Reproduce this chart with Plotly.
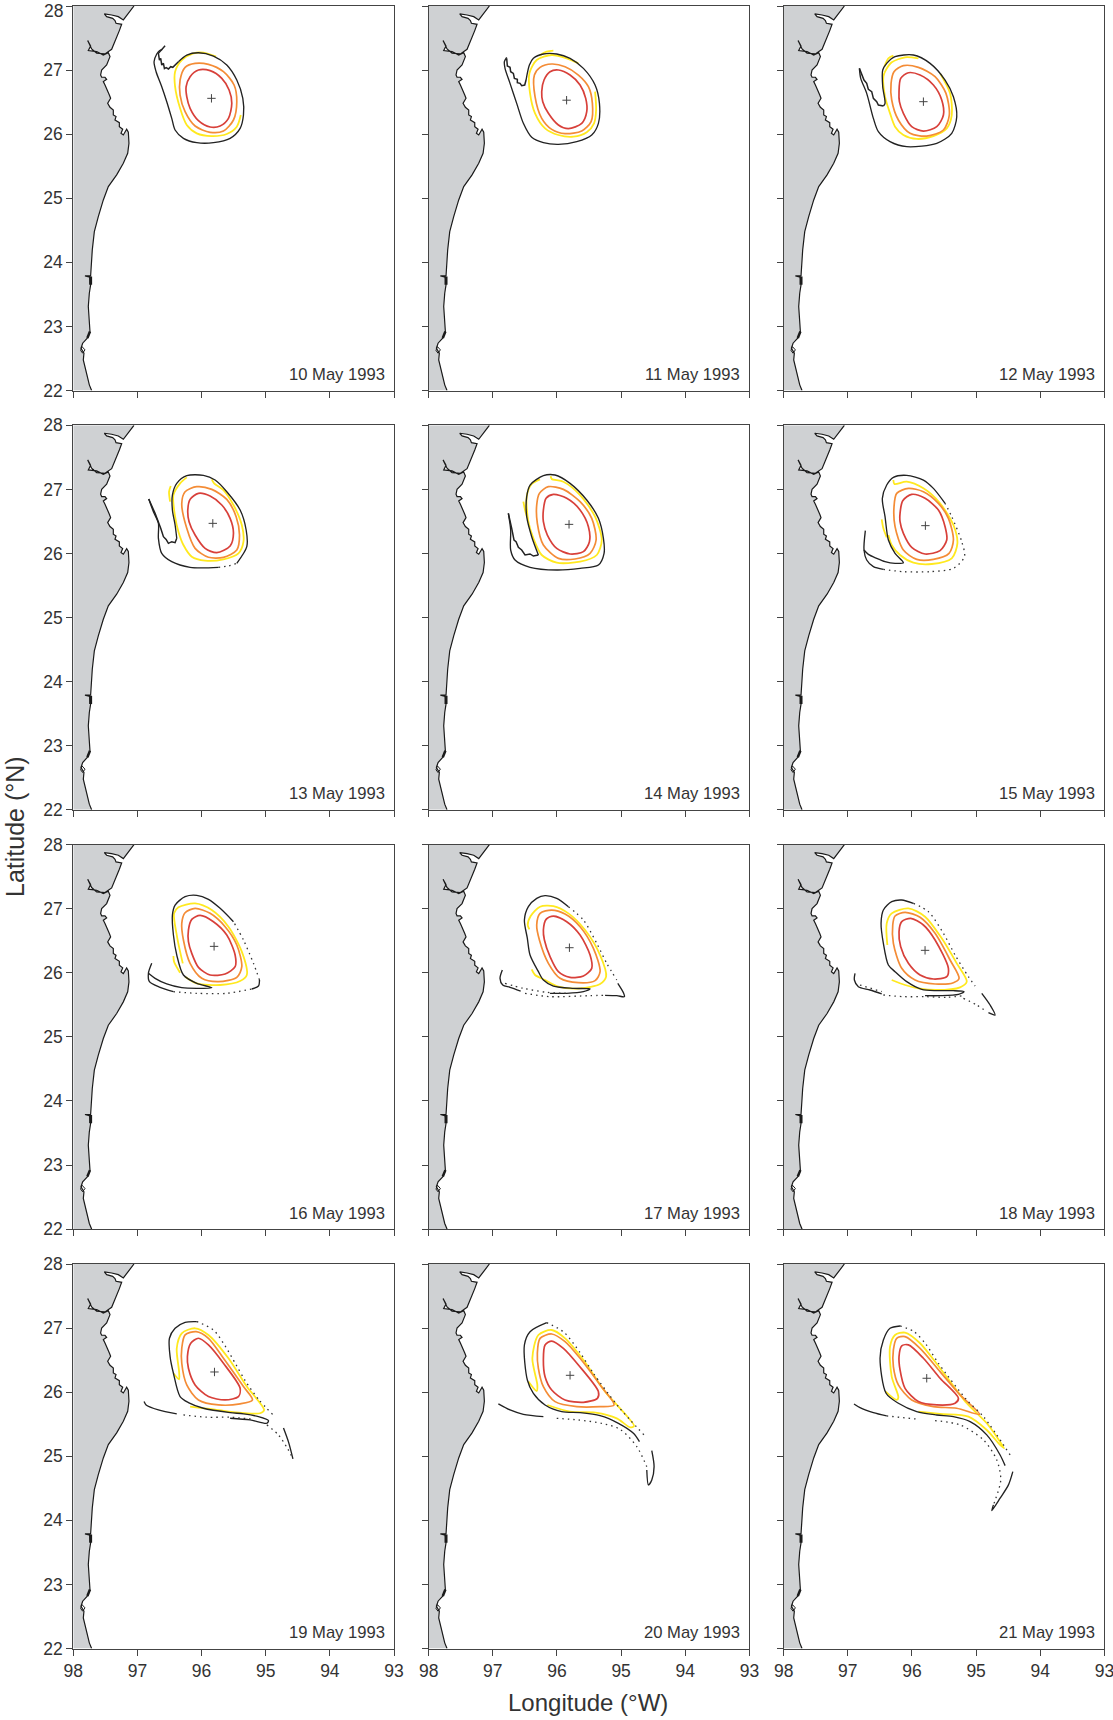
import plotly.graph_objects as go

FONT = "Liberation Sans, Arial, sans-serif"
INK = "#333333"
GREY = "#CFD1D3"
RED = "#D8403A"
ORANGE = "#F48C36"
YELLOW = "#FFE91F"
BLACK = "#222222"

lon_ticks = [98, 97, 96, 95, 94, 93]
lat_ticks = [22, 23, 24, 25, 26, 27, 28]

coast_lon = [97.054,97.142,97.22,97.298,97.402,97.516,97.48,97.386,97.35,97.334,97.246,97.282,97.324,97.366,97.402,97.506,97.636,97.714,97.776,97.73,97.766,97.636,97.532,97.454,97.428,97.48,97.558,97.574,97.558,97.506,97.48,97.532,97.506,97.48,97.438,97.418,97.464,97.428,97.376,97.376,97.334,97.35,97.282,97.282,97.23,97.256,97.22,97.168,97.142,97.132,97.152,97.22,97.324,97.454,97.532,97.61,97.672,97.704,97.724,97.73,97.818,97.74,97.73,97.75,97.766,97.75,97.74,97.782,97.854,97.88,97.834,97.844,97.802,97.776,97.75,97.714]
coast_lat = [28.0,27.876,27.782,27.834,27.86,27.876,27.834,27.808,27.772,27.73,27.714,27.616,27.522,27.418,27.324,27.252,27.262,27.33,27.46,27.376,27.304,27.288,27.236,27.272,27.21,27.08,27.002,26.924,26.888,26.888,26.856,26.82,26.768,26.716,26.612,26.56,26.482,26.42,26.378,26.3,26.274,26.222,26.18,26.118,26.076,26.014,25.988,26.076,26.03,25.858,25.702,25.546,25.364,25.182,24.974,24.714,24.48,24.194,23.934,23.788,23.788,23.768,23.648,23.518,23.31,23.05,22.92,22.816,22.738,22.66,22.582,22.478,22.322,22.218,22.088,22.0]
land_lon = [98.0, 98.0]
land_lat = [22.0, 28.0]
coast_thick_a = ([97.73, 97.73], [23.78, 23.65])
coast_thick_b = ([97.74, 97.78], [22.92, 22.82])
coast_isle = ([97.865, 97.886, 97.854, 97.818, 97.865], [22.686, 22.624, 22.582, 22.634, 22.686])

# ---- 10 May
d10_center = (95.846, 26.559)
d10_red = ([96.241,96.179,96.049,95.867,95.685,95.571,95.529,95.581,95.711,95.867,96.049,96.179,96.231,96.241],[26.741,26.897,27.001,26.991,26.871,26.689,26.481,26.247,26.127,26.112,26.211,26.403,26.585,26.741])
d10_orange = ([96.335,96.257,96.101,95.893,95.659,95.493,95.451,95.503,95.659,95.867,96.101,96.257,96.335,96.335],[26.845,27.043,27.105,27.089,26.975,26.767,26.507,26.221,26.049,26.029,26.127,26.351,26.611,26.845])
d10_yellow = [([95.773,95.971,96.127,96.309,96.413,96.413,96.335,96.231,96.075,95.841,95.607,95.451,95.389],[27.209,27.271,27.261,27.157,26.975,26.741,26.403,26.143,26.013,25.971,26.003,26.117,26.299])]
d10_black = [([96.611,96.657,96.699,96.741,96.709,96.621,96.543,96.465,96.413,96.283,96.075,95.815,95.555,95.399,95.347,95.357,95.451,95.607,95.815,96.049,96.231,96.361],[27.323,27.303,27.251,27.131,26.975,26.741,26.507,26.247,26.065,25.935,25.867,25.867,25.935,26.091,26.299,26.559,26.845,27.079,27.219,27.271,27.235,27.131])]
d10_jag = ([96.361,96.413,96.449,96.481,96.517,96.553,96.579,96.595,96.621,96.637,96.657,96.673,96.569],[27.131,27.079,27.043,27.053,27.017,27.037,27.022,27.105,27.079,27.183,27.157,27.261,27.381])
d10_dots = []

# ---- 11 May
d11_center = (95.85, 26.53)
d11_red = ([96.238,96.202,96.108,95.978,95.796,95.64,95.552,95.536,95.614,95.822,95.978,96.134,96.222,96.238],[26.663,26.845,26.975,27.001,26.923,26.767,26.559,26.351,26.169,26.086,26.143,26.325,26.507,26.663])
d11_orange = ([96.352,96.264,96.082,95.874,95.666,95.51,95.448,95.468,95.614,95.874,96.082,96.238,96.342,96.352],[26.923,27.043,27.095,27.053,26.923,26.741,26.481,26.195,26.049,26.008,26.075,26.247,26.585,26.923])
d11_yellow = [([96.056,96.16,96.274],[27.303,27.287,27.225]),([95.666,95.848,96.082,96.316,96.43,96.42,96.342,96.186,95.978,95.744,95.536,95.422,95.39,95.406],[27.105,27.183,27.235,27.157,26.949,26.637,26.325,26.091,25.987,25.961,26.029,26.169,26.377,26.663])]
d11_black = [([96.784,96.82,96.81,96.732,96.628,96.524,96.394,96.212,95.978,95.692,95.458,95.354,95.338,95.406,95.588,95.796,96.004,96.212,96.368,96.43,96.482],[27.199,27.131,27.027,26.793,26.481,26.169,25.951,25.867,25.841,25.883,25.987,26.169,26.481,26.767,27.027,27.183,27.251,27.251,27.183,27.079,26.845])]
d11_jag = ([96.482,96.503,96.55,96.576,96.618,96.618,96.664,96.68,96.722,96.732,96.774,96.784],[26.845,26.767,26.757,26.793,26.803,26.855,26.871,26.949,26.975,27.043,27.063,27.183])
d11_dots = []

# ---- 12 May
d12_center = (95.822, 26.507)
d12_red = ([96.202,96.176,96.056,95.874,95.666,95.536,95.51,95.614,95.822,96.004,96.134,96.196,96.202],[26.663,26.871,26.959,26.923,26.767,26.533,26.299,26.117,26.049,26.117,26.325,26.507,26.663])
d12_orange = ([96.326,96.28,96.134,95.9,95.64,95.47,95.418,95.51,95.77,96.03,96.212,96.316,96.326],[26.793,26.975,27.069,27.043,26.897,26.637,26.299,26.065,25.971,26.013,26.221,26.533,26.793])
d12_yellow = [([96.29,96.368,96.43],[27.225,27.183,27.053]),([95.9,96.108,96.316,96.42,96.446,96.42,96.342,96.264,96.134,95.926,95.666,95.458,95.38,95.406,95.562],[27.183,27.199,27.121,26.975,26.897,26.585,26.325,26.117,25.987,25.925,25.971,26.091,26.299,26.637,26.949])]
d12_black = [([96.446,96.42,96.456,96.456,96.394,96.264,95.978,95.718,95.484,95.354,95.302,95.38,95.614,96.082,96.342,96.524,96.602,96.706,96.799,96.82],[26.439,26.481,26.741,27.001,27.105,27.209,27.235,27.105,26.845,26.585,26.273,26.013,25.857,25.805,25.883,26.039,26.247,26.637,26.871,27.027])]
d12_jag = ([96.82,96.748,96.706,96.68,96.628,96.602,96.55,96.524,96.446],[27.027,26.845,26.793,26.699,26.663,26.559,26.507,26.455,26.439])
d12_dots = []

# ---- 13 May
d13_center = (95.825, 26.47)
d13_red = ([96.215,96.179,96.049,95.867,95.685,95.555,95.503,95.555,95.763,95.945,96.101,96.195,96.215],[26.678,26.844,26.938,26.896,26.756,26.548,26.314,26.116,26.012,26.08,26.288,26.496,26.678])
d13_orange = ([96.309,96.257,96.075,95.841,95.607,95.461,95.409,95.451,95.659,95.893,96.101,96.231,96.309],[26.782,26.964,27.042,27.0,26.844,26.574,26.288,26.054,25.94,25.94,26.08,26.392,26.782])
d13_yellow = [([96.481,96.507,96.491],[27.052,26.964,26.808]),([95.841,95.805,95.659,95.503,95.373,95.347,95.425,95.659,95.945,96.153,96.283,96.361,96.413,96.439,96.335,96.231],[27.156,27.094,26.99,26.756,26.444,26.184,26.002,25.908,25.888,25.95,26.132,26.34,26.574,26.912,27.094,27.188])]
d13_black = [([96.824,96.751,96.673,96.673,96.621,96.465,96.179,95.737],[26.85,26.652,26.47,26.236,26.002,25.872,25.784,25.784]),([95.451,95.295,95.305,95.399,95.607,95.789,95.971,96.231,96.387,96.455,96.455,96.413,96.387],[25.846,26.106,26.366,26.678,26.964,27.146,27.219,27.214,27.094,26.912,26.678,26.444,26.236])]
d13_jag = ([96.387,96.413,96.465,96.517,96.553,96.595,96.637,96.663,96.725,96.824],[26.236,26.168,26.184,26.158,26.22,26.262,26.392,26.47,26.626,26.85])
d13_dots = [([95.737,95.58,95.451],[25.784,25.805,25.846])]

# ---- 14 May
d14_center = (95.812, 26.454)
d14_red = ([96.212,96.17,96.056,95.848,95.64,95.51,95.494,95.588,95.796,96.004,96.15,96.212,96.212],[26.678,26.86,26.922,26.86,26.678,26.418,26.184,26.028,25.992,26.08,26.288,26.496,26.678])
d14_orange = ([96.316,96.274,96.134,95.9,95.64,95.458,95.39,95.484,95.718,95.978,96.212,96.306,96.316],[26.756,26.938,27.042,27.0,26.808,26.548,26.21,26.002,25.914,25.924,26.132,26.47,26.756])
d14_yellow = [([96.524,96.498,96.462],[26.808,26.678,26.548]),([96.098,96.082,95.9,95.64,95.406,95.302,95.38,95.64,96.004,96.238,96.368,96.446,96.472,96.394,96.264],[27.208,27.162,27.12,26.912,26.574,26.21,25.976,25.872,25.856,25.976,26.236,26.496,26.886,27.084,27.156])]
d14_black = [([96.758,96.722,96.722,96.654,96.42,96.004,95.64,95.354,95.266,95.276,95.354,95.536,95.796,96.03,96.212,96.42,96.472,96.472,96.394,96.29],[26.626,26.366,26.054,25.898,25.784,25.742,25.768,25.82,26.002,26.236,26.548,26.834,27.094,27.224,27.214,27.068,26.886,26.574,26.262,25.976])]
d14_jag = ([96.29,96.368,96.42,96.498,96.55,96.602,96.638,96.67,96.706,96.758],[25.976,25.96,25.992,25.976,26.054,26.096,26.184,26.21,26.392,26.626])
d14_dots = []

# ---- 15 May
d15_center = (95.791, 26.434)
d15_red = ([96.186,96.144,96.004,95.796,95.588,95.484,95.458,95.562,95.796,96.004,96.134,96.186,96.186],[26.626,26.824,26.922,26.86,26.678,26.418,26.21,26.044,25.992,26.096,26.314,26.496,26.626])
d15_orange = ([96.28,96.238,96.056,95.822,95.588,95.432,95.354,95.422,95.666,95.926,96.134,96.264,96.28],[26.73,26.938,27.016,26.964,26.782,26.548,26.21,26.002,25.908,25.908,26.054,26.418,26.73])
d15_yellow = [([96.472,96.446,96.394],[26.532,26.392,26.252]),([96.29,96.274,96.082,95.822,95.562,95.354,95.292,95.38,95.692,95.978,96.186,96.316,96.368],[27.146,27.084,27.12,27.016,26.782,26.444,26.158,25.924,25.836,25.856,25.976,26.132,26.288])]
d15_black = [([96.727,96.748,96.706,96.602,96.446],[26.356,26.054,25.898,25.794,25.752]),([95.484,95.666,95.822,96.082,96.29,96.394,96.462,96.42,96.368,96.264,96.134,96.264,96.42,96.55,96.68,96.748],[26.782,27.016,27.146,27.219,27.188,27.068,26.86,26.574,26.21,26.002,25.856,25.846,25.872,25.924,25.986,26.054])]
d15_jag = None
d15_dots = [([96.446,96.134,95.718,95.354,95.182,95.224,95.38,95.484],[25.752,25.716,25.716,25.768,25.95,26.184,26.574,26.782])]

# ---- 16 May
d16_center = (95.805, 26.412)
d16_red = ([96.205,96.153,96.023,95.815,95.607,95.477,95.477,95.633,95.867,96.049,96.153,96.205,96.205],[26.667,26.833,26.896,26.797,26.589,26.277,26.095,25.981,25.965,26.085,26.303,26.485,26.667])
d16_orange = ([96.309,96.257,96.101,95.867,95.633,95.451,95.373,95.451,95.737,95.997,96.179,96.283,96.309],[26.771,26.937,27.005,26.927,26.719,26.433,26.095,25.929,25.861,25.913,26.147,26.511,26.771])
d16_yellow = [([96.439,96.429,96.335],[26.261,26.173,26.001]),([96.293,96.335,96.387,96.429,96.361,96.101,95.841,95.581,95.373,95.295,95.399,95.711,96.075,96.257],[26.147,26.329,26.589,26.927,27.021,27.083,26.979,26.719,26.329,25.965,25.871,25.809,25.835,25.939])]
d16_black = [([96.777,96.829,96.813,96.647,96.439],[26.147,25.991,25.861,25.773,25.705]),([95.217,95.113,95.097],[25.747,25.793,25.887]),([95.503,95.711,95.893,96.075,96.257,96.413,96.455,96.439,96.387,96.283,96.075,95.841,96.075,96.309,96.543,96.725,96.829],[26.797,27.005,27.145,27.208,27.187,27.057,26.901,26.589,26.277,25.965,25.835,25.767,25.757,25.767,25.825,25.913,25.991])]
d16_jag = None
d16_dots = [([96.439,96.075,95.607,95.217],[25.705,25.679,25.679,25.747]),([95.097,95.191,95.347,95.503],[25.887,26.147,26.511,26.797])]

# ---- 17 May
d17_center = (95.806, 26.391)
d17_red = ([96.212,96.17,96.056,95.848,95.64,95.484,95.458,95.588,95.796,95.978,96.108,96.196,96.212],[26.667,26.833,26.885,26.797,26.589,26.277,26.069,25.949,25.929,26.017,26.251,26.511,26.667])
d17_orange = ([96.316,96.264,96.082,95.874,95.64,95.432,95.328,95.406,95.666,95.952,96.134,96.274,96.316],[26.745,26.927,26.979,26.917,26.719,26.381,26.017,25.877,25.845,25.913,26.147,26.511,26.745])
d17_yellow = [([96.43,96.456,96.41,96.264,96.056,95.822,95.562,95.328,95.234,95.328,95.64,95.978,96.186,96.342,96.394],[26.677,26.745,26.885,27.031,27.041,26.927,26.667,26.277,25.939,25.825,25.757,25.783,25.887,25.965,26.053])]
d17_black = [([96.852,96.888,96.846,96.732,96.566],[26.043,25.913,25.809,25.773,25.715]),([96.108,95.848,95.588,95.484,95.744,96.056,96.212,96.29,96.42,96.462,96.508,96.446,96.316,96.186,96.004,95.822],[25.679,25.679,25.705,25.747,25.757,25.793,25.887,26.017,26.277,26.537,26.823,27.031,27.161,27.203,27.161,27.031]),([95.052,94.964,94.948,95.068,95.25],[25.835,25.689,25.627,25.643,25.648])]
d17_jag = None
d17_dots = [([96.81,96.524,96.16,95.848],[25.835,25.757,25.695,25.679]),([96.498,96.108,95.484,95.25],[25.679,25.627,25.643,25.648]),([95.822,95.588,95.38,95.224,95.068],[27.031,26.823,26.459,26.147,25.887])]

# ---- 18 May
d18_center = (95.796, 26.35)
d18_red = ([96.202,96.16,96.02,95.822,95.64,95.432,95.458,95.666,95.874,96.056,96.176,96.202],[26.641,26.797,26.849,26.745,26.511,26.069,25.939,25.903,25.965,26.147,26.407,26.641])
d18_orange = ([96.30,96.264,96.108,95.874,95.64,95.406,95.266,95.354,95.64,95.952,96.16,96.29,96.30],[26.745,26.885,26.943,26.865,26.615,26.199,25.913,25.845,25.825,25.887,26.069,26.459,26.745])
d18_yellow = [([96.384,96.394,96.316,96.056,95.796,95.536,95.302,95.146,95.25,95.614,95.9,96.108,96.316],[26.433,26.771,26.927,27.005,26.875,26.537,26.147,25.861,25.773,25.731,25.757,25.809,25.887])]
d18_black = [([96.888,96.898,96.836,96.654,96.472],[25.991,25.887,25.783,25.731,25.669]),([95.796,95.562,95.276,95.188,95.354,95.614,95.848,96.082,96.264,96.368,96.446,96.482,96.446,96.316,96.16,95.978],[25.643,25.643,25.663,25.705,25.721,25.721,25.741,25.861,26.017,26.121,26.459,26.771,26.979,27.109,27.135,27.083]),([94.912,94.782,94.704,94.808],[25.679,25.497,25.341,25.377])]
d18_jag = None
d18_dots = [([96.81,96.472],[25.809,25.705]),([96.446,96.134,95.796,95.458,95.198],[25.653,25.627,25.627,25.617,25.643]),([95.198,94.99,94.834],[25.601,25.497,25.393]),([95.978,95.744,95.51,95.328,95.12,95.016],[27.083,26.953,26.615,26.277,25.939,25.793])]

# ---- 19 May
d19_center = (95.799, 26.315)
d19_red = ([96.221,96.169,96.049,95.893,95.659,95.399,95.425,95.633,95.893,96.101,96.205,96.221],[26.555,26.763,26.841,26.737,26.451,26.061,25.931,25.879,25.931,26.113,26.373,26.555])
d19_orange = ([96.309,96.257,96.085,95.893,95.659,95.347,95.207,95.399,95.737,96.049,96.231,96.309,96.309],[26.685,26.893,26.945,26.841,26.529,26.087,25.879,25.817,25.801,25.879,26.113,26.451,26.685])
d19_yellow = [([96.439,96.351,96.351,96.387,96.309,96.101,95.893,95.581,95.295,95.025,95.087,95.503,95.815,96.179],[26.295,26.201,26.321,26.685,26.919,26.997,26.893,26.529,26.087,25.723,25.671,25.687,25.733,25.775])]
d19_black = [([96.897,96.865,96.673,96.387],[25.853,25.801,25.723,25.66]),([95.555,95.243,94.983,94.957,95.113,95.347,95.555,95.971,96.205,96.335,96.439,96.491,96.501,96.413,96.257,96.075],[25.593,25.567,25.515,25.556,25.618,25.66,25.681,25.749,25.837,25.931,26.295,26.555,26.841,26.997,27.09,27.101]),([94.723,94.644,94.576],[25.44,25.22,24.96])]
d19_jag = None
d19_dots = [([96.283,95.919,95.555,95.191],[25.645,25.609,25.609,25.577]),([96.075,95.815,95.633,95.461,95.321,95.113,94.869],[27.101,26.97,26.721,26.425,26.18,25.889,25.629]),([94.983,94.80,94.66,94.576],[25.49,25.33,25.12,24.96])]

# ---- 20 May
d20_center = (95.796, 26.263)
d20_red = ([96.212,96.186,96.082,95.9,95.666,95.354,95.37,95.588,95.874,96.082,96.186,96.212],[26.502,26.736,26.798,26.684,26.424,26.008,25.904,25.842,25.878,26.034,26.242,26.502])
d20_orange = ([96.306,96.264,96.082,95.874,95.64,95.328,95.11,95.328,95.692,96.03,96.212,96.29,96.306],[26.606,26.84,26.908,26.788,26.528,26.112,25.8,25.774,25.774,25.852,26.086,26.372,26.606])
d20_yellow = [([96.446,96.316,96.306,96.384,96.29,96.082,95.874,95.588,95.25,94.798,94.86,95.068,95.401,95.796,96.15],[26.164,26.018,26.112,26.528,26.892,26.97,26.84,26.502,26.008,25.472,25.452,25.592,25.68,25.696,25.8])]
d20_black = [([96.914,96.732,96.524,96.212],[25.816,25.722,25.654,25.618]),([94.714,94.808,95.042,95.328,95.64,95.926,96.186,96.368,96.462,96.508,96.42,96.16],[25.228,25.358,25.514,25.634,25.68,25.696,25.8,25.982,26.19,26.736,26.944,27.084]),([94.522,94.486,94.522,94.574,94.6],[25.088,24.838,24.63,24.552,24.786])]
d20_jag = None
d20_dots = [([96.004,95.666,95.302,95.016,94.756,94.6],[25.592,25.566,25.514,25.42,25.15,24.838]),([96.16,95.89,95.64,95.432,95.042,94.642],[27.084,26.934,26.616,26.294,25.774,25.332])]

# ---- 21 May
d21_center = (95.77, 26.217)
d21_red = ([96.202,96.16,96.056,95.822,95.562,95.276,95.328,95.614,95.9,96.108,96.186,96.202],[26.555,26.721,26.737,26.529,26.217,25.905,25.827,25.801,25.853,26.06,26.347,26.555])
d21_orange = ([96.29,96.238,96.108,95.874,95.562,95.25,94.948,95.302,95.666,96.004,96.212,96.29,96.29],[26.659,26.841,26.867,26.685,26.321,25.957,25.655,25.749,25.775,25.879,26.113,26.399,26.659])
d21_yellow = [([96.41,96.238,96.212,96.316,96.342,96.264,96.108,95.874,95.562,95.146,94.834,94.564,94.626,94.834,95.12,95.562,95.9],[26.008,25.879,25.92,26.243,26.711,26.893,26.929,26.763,26.373,25.827,25.515,25.124,25.176,25.41,25.618,25.66,25.697])]
d21_black = [([96.904,96.81,96.602,96.394],[25.816,25.759,25.681,25.629]),([94.548,94.626,94.834,95.094,95.354,95.614,95.926,96.212,96.404,96.498,96.446,96.342,96.186],[24.854,25.02,25.333,25.54,25.618,25.644,25.697,25.827,25.983,26.529,26.815,26.997,27.033]),([94.428,94.496,94.626,94.756,94.73],[24.76,24.553,24.345,24.152,24.241])]
d21_jag = None
d21_dots = [([96.394,95.9],[25.629,25.577]),([95.64,95.25,94.886,94.678,94.616,94.73],[25.556,25.489,25.255,24.943,24.631,24.241]),([96.186,95.968,95.786,95.588,95.146,94.876,94.46],[27.033,26.945,26.752,26.451,25.879,25.608,25.005])]

panels = [
    ("10 May 1993", d10_center, d10_red, d10_orange, d10_yellow, d10_black, d10_jag, d10_dots),
    ("11 May 1993", d11_center, d11_red, d11_orange, d11_yellow, d11_black, d11_jag, d11_dots),
    ("12 May 1993", d12_center, d12_red, d12_orange, d12_yellow, d12_black, d12_jag, d12_dots),
    ("13 May 1993", d13_center, d13_red, d13_orange, d13_yellow, d13_black, d13_jag, d13_dots),
    ("14 May 1993", d14_center, d14_red, d14_orange, d14_yellow, d14_black, d14_jag, d14_dots),
    ("15 May 1993", d15_center, d15_red, d15_orange, d15_yellow, d15_black, d15_jag, d15_dots),
    ("16 May 1993", d16_center, d16_red, d16_orange, d16_yellow, d16_black, d16_jag, d16_dots),
    ("17 May 1993", d17_center, d17_red, d17_orange, d17_yellow, d17_black, d17_jag, d17_dots),
    ("18 May 1993", d18_center, d18_red, d18_orange, d18_yellow, d18_black, d18_jag, d18_dots),
    ("19 May 1993", d19_center, d19_red, d19_orange, d19_yellow, d19_black, d19_jag, d19_dots),
    ("20 May 1993", d20_center, d20_red, d20_orange, d20_yellow, d20_black, d20_jag, d20_dots),
    ("21 May 1993", d21_center, d21_red, d21_orange, d21_yellow, d21_black, d21_jag, d21_dots),
]

W, H = 1113, 1720
lefts = [73.3, 428.7, 783.7]
tops = [6.0, 425.3, 844.6, 1264.0]
PW, PH = 320.7, 384.5

fig = go.Figure()


def curve(seg, xa, ya, color, width, dash=None, shape="spline"):
    line = dict(color=color, width=width, shape=shape, dash=dash)
    if shape == "spline":
        line["smoothing"] = 0.8
    fig.add_trace(go.Scatter(
        x=seg[0], y=seg[1], mode="lines", xaxis=xa, yaxis=ya, hoverinfo="skip", line=line,
    ))


layout = {}
for i, (label, center, red, orange, yellow, black, jag, dots) in enumerate(panels):
    row, col = divmod(i, 3)
    n = "" if i == 0 else str(i + 1)
    xa, ya = "x" + n, "y" + n
    x0, y0 = lefts[col], tops[row]
    axis_style = dict(
        automargin=False, ticklabeloverflow="allow",
        showgrid=False, zeroline=False, showline=True, mirror=True,
        linecolor="#444444", linewidth=1.3, ticks="outside", ticklen=6,
        tickwidth=1.2, tickcolor="#444444",
        tickfont=dict(family=FONT, size=17.5, color=INK),
    )
    layout["xaxis" + n] = dict(
        domain=[x0 / W, (x0 + PW) / W], range=[98, 93], anchor=ya,
        tickvals=lon_ticks, showticklabels=row == 3, **axis_style)
    # The top-left "28" sits against the page edge, so it is placed as its own text below.
    lat_text = [str(v) if not (i == 0 and v == 28) else "" for v in lat_ticks]
    layout["yaxis" + n] = dict(
        domain=[1 - (y0 + PH) / H, 1 - y0 / H], range=[22, 28], anchor=xa,
        tickvals=lat_ticks, ticktext=lat_text, showticklabels=col == 0, **axis_style)
    fig.add_trace(go.Scatter(
        x=coast_lon + land_lon, y=coast_lat + land_lat, mode="none", fill="toself",
        fillcolor=GREY, xaxis=xa, yaxis=ya, hoverinfo="skip"))
    fig.add_trace(go.Scatter(
        x=coast_lon, y=coast_lat, mode="lines", xaxis=xa, yaxis=ya, hoverinfo="skip",
        line=dict(color="#1a1a1a", width=1.2)))
    for seg, w in ((coast_thick_a, 3), (coast_thick_b, 2.5), (coast_isle, 1)):
        curve(seg, xa, ya, "#1a1a1a", w, shape="linear")
    for seg in yellow:
        curve(seg, xa, ya, YELLOW, 1.8)
    curve(orange, xa, ya, ORANGE, 1.7)
    curve(red, xa, ya, RED, 1.7)
    for seg in black:
        curve(seg, xa, ya, BLACK, 1.35)
    if jag:
        curve(jag, xa, ya, BLACK, 1.5, shape="linear")
    for seg in dots:
        curve(seg, xa, ya, "#333333", 1.3, dash="1.5px 4px")
    fig.add_trace(go.Scatter(
        x=[center[0]], y=[center[1]], mode="markers", xaxis=xa, yaxis=ya, hoverinfo="skip",
        marker=dict(symbol="cross-thin", size=6, line=dict(color="#444444", width=1))))
    fig.add_annotation(
        x=93.11, y=22.25, xref=xa, yref=ya, text=label, showarrow=False,
        xanchor="right", yanchor="middle", font=dict(family=FONT, size=16.6, color=INK))

fig.add_annotation(
    x=64 / W, y=1, xref="paper", yref="paper", text="28", showarrow=False,
    xanchor="right", yanchor="top", borderpad=0, font=dict(family=FONT, size=17.5, color=INK))
fig.add_annotation(
    x=588 / W, y=1 - 1702 / H, xref="paper", yref="paper", text="Longitude (°W)",
    showarrow=False, xanchor="center", yanchor="middle",
    font=dict(family=FONT, size=24, color=INK))
fig.add_annotation(
    x=15 / W, y=1 - 827 / H, xref="paper", yref="paper", text="Latitude (°N)",
    showarrow=False, textangle=-90, xanchor="center", yanchor="middle",
    font=dict(family=FONT, size=25, color=INK))

fig.update_layout(
    width=W, height=H, margin=dict(l=0, r=0, t=0, b=0), showlegend=False,
    paper_bgcolor="white", plot_bgcolor="white", **layout)

fig.write_html("out.html", config=dict(displayModeBar=False),
               post_script="document.body.style.margin='0';document.documentElement.style.overflow='hidden';")
